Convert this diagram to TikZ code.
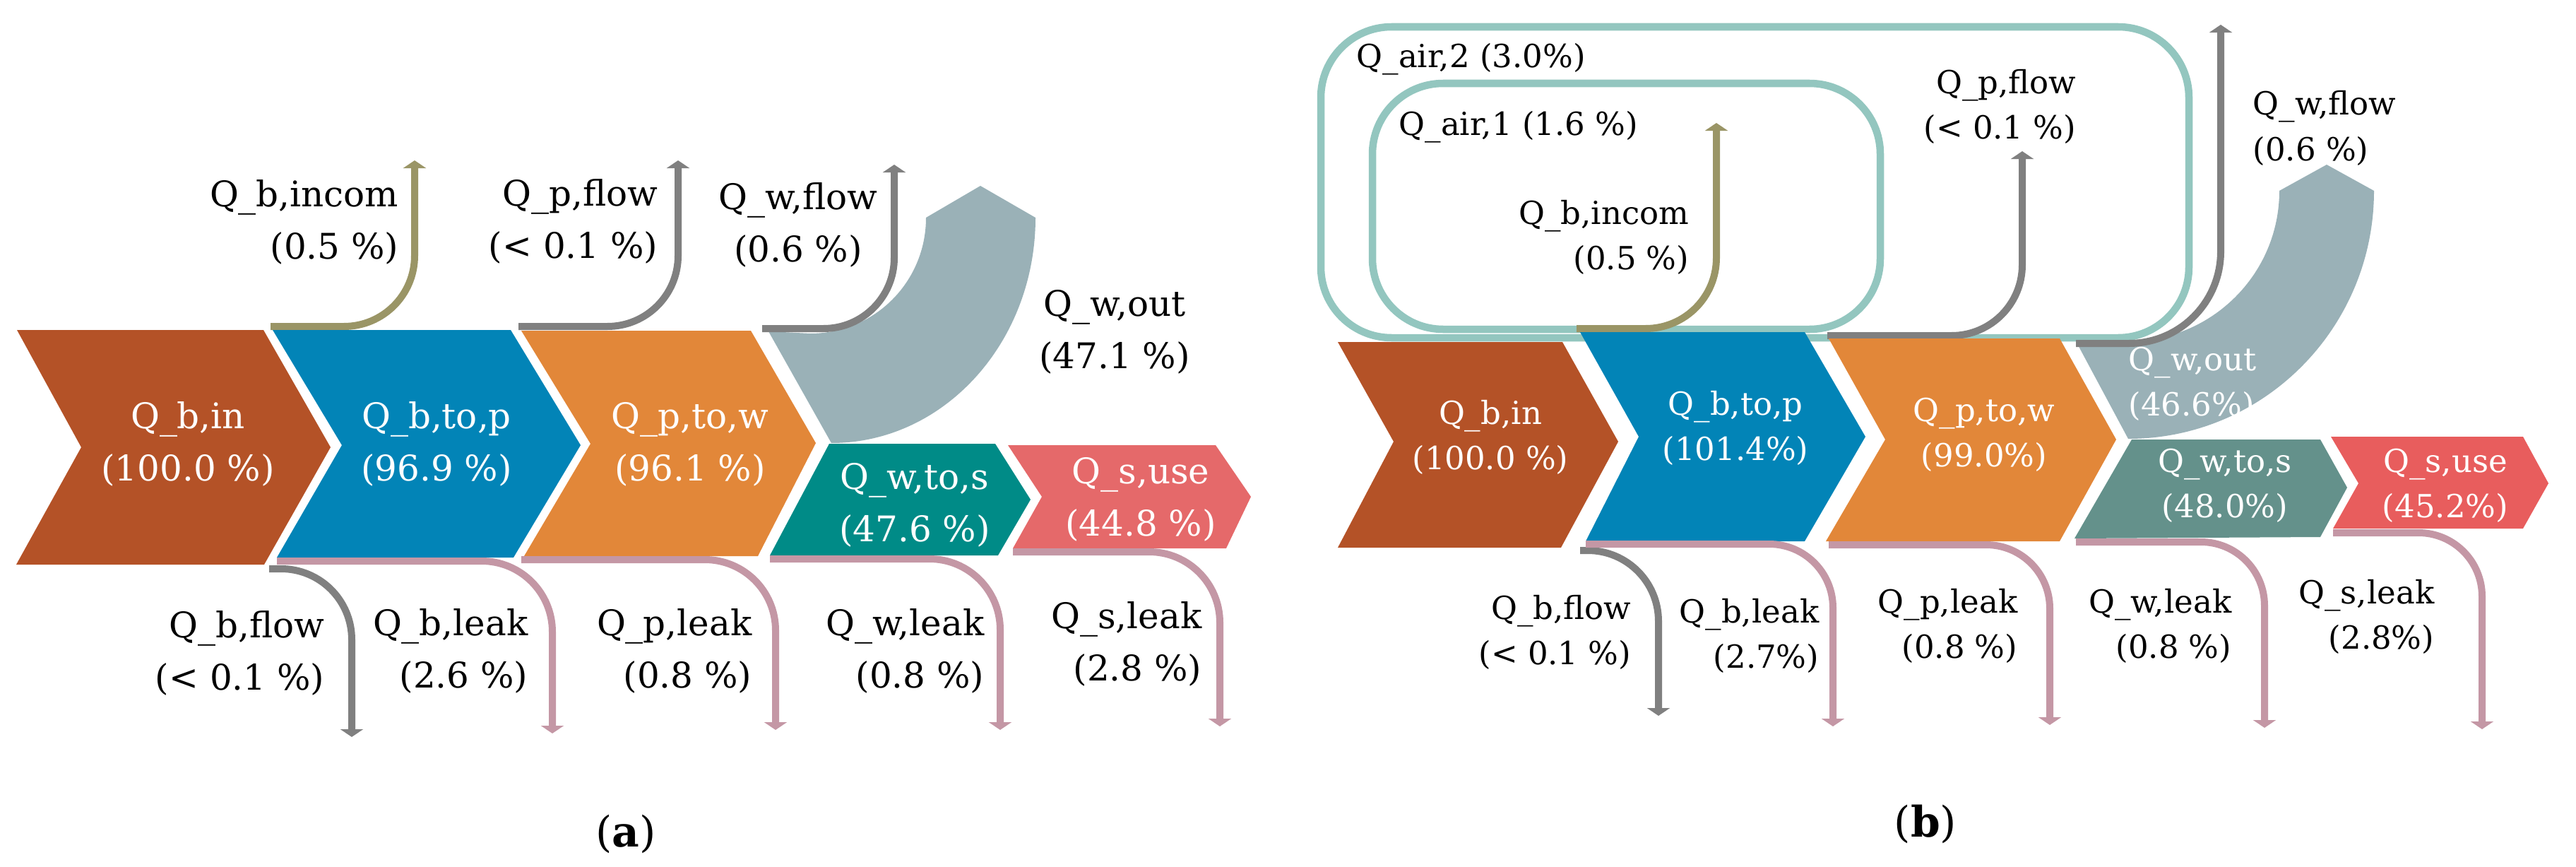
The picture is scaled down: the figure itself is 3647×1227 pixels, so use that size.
\documentclass[tikz,border=0pt]{standalone}
\usepackage{fontspec}
\setmainfont{DejaVu Serif}
\usetikzlibrary{arrows.meta}
\definecolor{cbin}{HTML}{B45227}
\definecolor{cbtp}{HTML}{0284B7}
\definecolor{cptw}{HTML}{E28739}
\definecolor{cwout}{HTML}{9AB1B7}
\definecolor{cwtsa}{HTML}{008B87}
\definecolor{cwtsb}{HTML}{64918B}
\definecolor{csusea}{HTML}{E5696A}
\definecolor{csuseb}{HTML}{E85D5D}
\definecolor{cleak}{HTML}{C497A5}
\definecolor{cgray}{HTML}{808080}
\definecolor{colive}{HTML}{9A9566}
\definecolor{cair}{HTML}{93C6BF}
\newcommand\us{\textunderscore}
\newcommand\fa{\fontsize{14.2pt}{20.8pt}\selectfont}
\newcommand\fb{\fontsize{12.8pt}{18.2pt}\selectfont}
\tikzset{
  flowline/.style={line width=0.1cm, rounded corners=1cm, -{Triangle[width=0.32cm,length=0.11cm]}},
  airloop/.style={draw=cair, line width=0.105cm, rounded corners=1cm},
  lbla/.style={inner sep=0pt, font=\fa, text=black},
  lblb/.style={inner sep=0pt, font=\fb, text=black},
  wla/.style={inner sep=0pt, font=\fa, text=white, align=center, anchor=base},
  wlb/.style={inner sep=0pt, font=\fb, text=white, align=center, anchor=base},
}
\begin{document}
\begin{tikzpicture}[x=0.01cm, y=-0.01cm]
\useasboundingbox (0,0) rectangle (3647,1227);

%================ PANEL (a) ================
% top flows
\coordinate (aIs) at (383,462); \coordinate (aIe) at (587,227);
\coordinate (aPs) at (734,462); \coordinate (aPe) at (960,227);
\coordinate (aWs) at (1079,465); \coordinate (aWe) at (1266,233);
\draw[flowline, draw=colive] (aIs) -| (aIe);
\draw[flowline, draw=cgray] (aPs) -| (aPe);

% Q_w,out band
\fill[cwout] (1088,469) -- (1147,472) .. controls (1238,472) and (1311,399) .. (1311,308)
  -- (1388,263) -- (1466,308) .. controls (1466,484) and (1337,627) .. (1177,627) -- cycle;
\draw[flowline, draw=cgray] (aWs) -| (aWe);

% blocks
\fill[cbin] (24,467) -- (373,467) -- (468,633) -- (374,799) -- (23,799) -- (115,633) -- cycle;
\fill[cbtp] (386,467) -- (723,467) -- (822,630) -- (727,789) -- (392,789) -- (484,630) -- cycle;
\fill[cptw] (738,468) -- (1063,468) -- (1155,627) -- (1073,787) -- (742,787) -- (836,628) -- cycle;
\fill[cwtsa] (1174,628) -- (1409,628) -- (1459,707) -- (1413,786) -- (1090,786) -- cycle;
\fill[csusea] (1427,630) -- (1721,630) -- (1771,703) -- (1736,776) -- (1434,776) -- (1475,703) -- cycle;

% bottom flows
\coordinate (aBFs) at (381,805); \coordinate (aBFe) at (498,1043);
\coordinate (aBLs) at (392,794); \coordinate (aBLe) at (782,1038);
\coordinate (aPLs) at (738,792); \coordinate (aPLe) at (1098,1033);
\coordinate (aWLs) at (1090,791); \coordinate (aWLe) at (1416,1033);
\coordinate (aSLs) at (1434,781); \coordinate (aSLe) at (1727,1028);
\draw[flowline, draw=cgray] (aBFs) -| (aBFe);
\draw[flowline, draw=cleak] (aBLs) -| (aBLe);
\draw[flowline, draw=cleak] (aPLs) -| (aPLe);
\draw[flowline, draw=cleak] (aWLs) -| (aWLe);
\draw[flowline, draw=cleak] (aSLs) -| (aSLe);

% block labels (anchor = baseline of last line)
\node[wla] (aBin) at (266,680) {Q\us b,in\\(100.0 \%)};
\node[wla] (aBtp) at (618,680) {Q\us b,to,p\\(96.9 \%)};
\node[wla] (aPtw) at (977,680) {Q\us p,to,w\\(96.1 \%)};
\node[wla] (aWts) at (1295,766) {Q\us w,to,s\\(47.6 \%)};
\node[wla] (aSuse) at (1615,758) {Q\us s,use\\(44.8 \%)};

% other labels
\node[lbla, align=right, anchor=base east] (aTinc) at (565,366) {Q\us b,incom\\(0.5 \%)};
\node[lbla, align=right, anchor=base east] (aTpf) at (932,365) {Q\us p,flow\\(\textless{} 0.1 \%)};
\node[lbla, align=center, anchor=base] (aTwf) at (1130,370) {Q\us w,flow\\(0.6 \%)};
\node[lbla, align=center, anchor=base] (aTwo) at (1578,521) {Q\us w,out\\(47.1 \%)};
\node[lbla, align=right, anchor=base east] (aTbf) at (460,976) {Q\us b,flow\\(\textless{} 0.1 \%)};
\node[lbla, align=right, anchor=base east] (aTbl) at (748,973) {Q\us b,leak\\(2.6 \%)};
\node[lbla, align=right, anchor=base east] (aTpl) at (1065,973) {Q\us p,leak\\(0.8 \%)};
\node[lbla, align=right, anchor=base east] (aTwl) at (1394,973) {Q\us w,leak\\(0.8 \%)};
\node[lbla, align=right, anchor=base east] (aTsl) at (1702,963) {Q\us s,leak\\(2.8 \%)};
\node[inner sep=0pt, font=\fontsize{17pt}{20pt}\selectfont, anchor=base] (capa) at (886,1198) {(\textbf{a})};

%================ PANEL (b) ================
% air loops
\draw[airloop] (1870,38) rectangle (3099,478);
\draw[airloop] (1943,118) rectangle (2662,466);

% Q_w,out band
\fill[cwout] (2939,483) -- (3013,483) .. controls (3131,483) and (3227,388) .. (3227,270)
  -- (3294,233) -- (3361,270) .. controls (3361,464) and (3205,621) .. (3013,621) -- cycle;

% top flows
\coordinate (bIs) at (2232,465); \coordinate (bIe) at (2430,174);
\coordinate (bPs) at (2587,475); \coordinate (bPe) at (2863,214);
\coordinate (bWs) at (2939,486); \coordinate (bWe) at (3144,35);
\draw[flowline, draw=colive] (bIs) -| (bIe);
\draw[flowline, draw=cgray] (bPs) -| (bPe);
\draw[flowline, draw=cgray, rounded corners=1.3cm] (bWs) -| (bWe);

% blocks
\fill[cbin] (1894,484) -- (2212,484) -- (2291,625) -- (2210,775) -- (1894,775) -- (1973,625) -- cycle;
\fill[cbtp] (2237,470) -- (2555,470) -- (2641,618) -- (2555,766) -- (2245,766) -- (2320,618) -- cycle;
\fill[cptw] (2589,479) -- (2916,479) -- (2996,622) -- (2916,766) -- (2585,766) -- (2669,622) -- cycle;
\fill[cwtsb] (3018,622) -- (3285,622) -- (3323,690) -- (3285,760) -- (2937,762) -- cycle;
\fill[csuseb] (3300,618) -- (3572,618) -- (3608,684) -- (3572,748) -- (3303,748) -- (3339,684) -- cycle;

% bottom flows
\coordinate (bBFs) at (2237,779); \coordinate (bBFe) at (2348,1013);
\coordinate (bBLs) at (2245,770); \coordinate (bBLe) at (2595,1028);
\coordinate (bPLs) at (2589,771); \coordinate (bPLe) at (2902,1026);
\coordinate (bWLs) at (2939,767); \coordinate (bWLe) at (3206,1030);
\coordinate (bSLs) at (3303,754); \coordinate (bSLe) at (3514,1032);
\draw[flowline, draw=cgray] (bBFs) -| (bBFe);
\draw[flowline, draw=cleak, rounded corners=0.9cm] (bBLs) -| (bBLe);
\draw[flowline, draw=cleak, rounded corners=0.9cm] (bPLs) -| (bPLe);
\draw[flowline, draw=cleak, rounded corners=0.9cm] (bWLs) -| (bWLe);
\draw[flowline, draw=cleak, rounded corners=0.9cm] (bSLs) -| (bSLe);

% block labels (anchor = baseline of last line)
\node[wlb] (bBin) at (2110,664) {Q\us b,in\\(100.0 \%)};
\node[wlb] (bBtp) at (2457,651) {Q\us b,to,p\\(101.4\%)};
\node[wlb] (bPtw) at (2809,660) {Q\us p,to,w\\(99.0\%)};
\node[wlb] (bWts) at (3150,732) {Q\us w,to,s\\(48.0\%)};
\node[wlb] (bSuse) at (3462,732) {Q\us s,use\\(45.2\%)};
\node[wlb, align=left, anchor=base west] (bWout) at (3013,588) {Q\us w,out\\(46.6\%)};

% other labels
\node[lblb, anchor=base west] (bAir2) at (1920,95) {Q\us air,2 (3.0\%)};
\node[lblb, anchor=base west] (bAir1) at (1980,191) {Q\us air,1 (1.6 \%)};
\node[lblb, align=right, anchor=base east] (bTinc) at (2392,381) {Q\us b,incom\\(0.5 \%)};
\node[lblb, align=right, anchor=base east] (bTpf) at (2940,196) {Q\us p,flow\\(\textless{} 0.1 \%)};
\node[lblb, align=left, anchor=base west] (bTwf) at (3189,227) {Q\us w,flow\\(0.6 \%)};
\node[lblb, align=right, anchor=base east] (bTbf) at (2310,940) {Q\us b,flow\\(\textless{} 0.1 \%)};
\node[lblb, align=right, anchor=base east] (bTbl) at (2576,945) {Q\us b,leak\\(2.7\%)};
\node[lblb, align=right, anchor=base east] (bTpl) at (2857,931) {Q\us p,leak\\(0.8 \%)};
\node[lblb, align=right, anchor=base east] (bTwl) at (3160,931) {Q\us w,leak\\(0.8 \%)};
\node[lblb, align=right, anchor=base east] (bTsl) at (3447,918) {Q\us s,leak\\(2.8\%)};
\node[inner sep=0pt, font=\fontsize{17pt}{20pt}\selectfont, anchor=base] (capb) at (2726,1184) {(\textbf{b})};
\end{tikzpicture}
\end{document}
